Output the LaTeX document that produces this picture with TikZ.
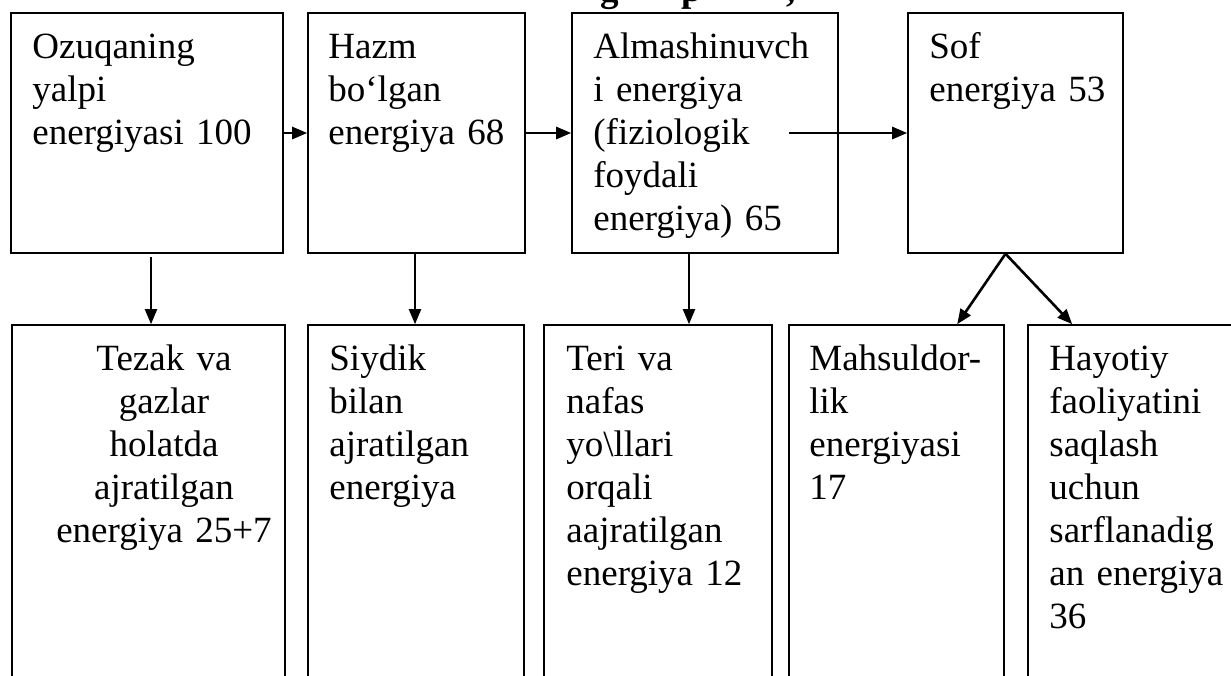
\documentclass[tikz,border=0pt]{standalone}
\usepackage{fontspec}
\setmainfont{Liberation Serif}
\usetikzlibrary{arrows.meta,fit}
\begin{document}
\begin{tikzpicture}[x=0.5pt,y=-0.5pt,
  box/.style={draw, line width=0.8pt, inner sep=0pt},
  txt/.style={font=\fontsize{18.5pt}{21.5pt}\selectfont, inner sep=0pt, text width=150pt, align=left, anchor=base west},
  ctxt/.style={font=\fontsize{18.5pt}{21.5pt}\selectfont, inner sep=0pt, text width=125pt, align=center, anchor=base},
  ttl/.style={font=\bfseries\fontsize{18.5pt}{21.5pt}\selectfont, inner sep=0pt, anchor=base west},
  arr/.style={-{Triangle[length=7.5pt,width=6pt]}, line width=1pt},
  harr/.style={-{Triangle[length=7.5pt,width=6pt]}, line width=1.3pt}]
\useasboundingbox (0,0) rectangle (1231,675);
\clip (0,0) rectangle (1231,675);
% cut-off title (only descenders visible)
\node[ttl] (tg) at (600,1.5) {g};
\node[ttl] (tp) at (681,1.5) {p};
\node[ttl] (tc) at (786,1.5) {,};
% top boxes
\node[box, fit={(11,13) (283,253)}] (A) {};
\node[box, fit={(308,13) (525,253)}] (B) {};
\node[box, fit={(572,13) (838,253)}] (C) {};
\node[box, fit={(908,13) (1123,253)}] (D) {};
% bottom boxes
\node[box, fit={(12,325) (285,700)}] (T1) {};
\node[box, fit={(308,325) (524,700)}] (T2) {};
\node[box, fit={(544,325) (772,700)}] (T3) {};
\node[box, fit={(789,325) (1004,700)}] (T4) {};
\node[box, fit={(1028,325) (1260,700)}] (T5) {};
% texts
\node[txt] (a) at (32,58) {Ozuqaning\\ yalpi\\ energiyasi 100};
\node[txt] (b) at (328,58) {Hazm\\ bo‘lgan\\ energiya 68};
\node[txt] (c) at (593,58) {Almashinuvch\\ i energiya\\ (fiziologik\\ foydali\\ energiya) 65};
\node[txt] (d) at (929,58) {Sof\\ energiya 53};
\node[ctxt] (t1) at (164,370) {Tezak va\\ gazlar\\ holatda\\ ajratilgan\\ energiya 25+7};
\node[txt] (t2) at (329,370) {Siydik\\ bilan\\ ajratilgan\\ energiya};
\node[txt] (t3) at (566,370) {Teri va\\ nafas\\ yo\textbackslash llari\\ orqali\\ aajratilgan\\ energiya 12};
\node[txt] (t4) at (809,370) {Mahsuldor-\\ lik\\ energiyasi\\ 17};
\node[txt] (t5) at (1049,370) {Hayotiy\\ faoliyatini\\ saqlash\\ uchun\\ sarflanadig\\ an energiya\\ 36};
% horizontal arrows
\draw[harr] (A.east) -- (B.west);
\draw[harr] (B.east) -- (C.west);
\draw[harr] ([xshift=-25pt]C.east) -- (D.west);
% downward arrows
\draw[arr] ([xshift=2pt,yshift=-1.5pt]A.south) -- ([xshift=2pt]A.south |- T1.north);
\draw[arr] ([xshift=-0.75pt]B.south) -- ([xshift=-0.75pt]B.south |- T2.north);
\draw[arr] ([xshift=-8pt]C.south) -- ([xshift=-8pt]C.south |- T3.north);
\coordinate (dsplit) at ([xshift=-5pt]D.south);
\draw[harr] (dsplit) -- ([xshift=84.5pt]T4.north west);
\draw[harr] (dsplit) -- ([xshift=22.5pt]T5.north west);
\end{tikzpicture}
\end{document}
